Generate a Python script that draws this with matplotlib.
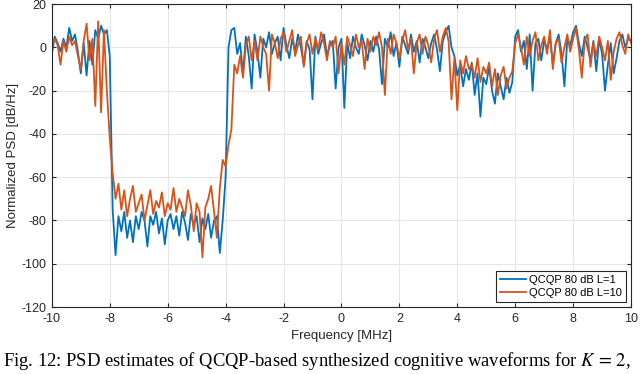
from matplotlib import pyplot as plt
import numpy as np

# frequency grid in MHz, 0.1 MHz steps
freq = np.linspace(-10, 10, 201)

psd_l1 = [
    -3, 5, 2, -2, 4, 0, 9, 3, 6, -2,
    -12, 2, -13, 3, -8, 8, 4, 10, 6, 8,
    -4, -75, -96, -78, -85, -76, -88, -80, -90, -78,
    -84, -76, -80, -92, -78, -82, -76, -86, -79, -91,
    -80, -77, -84, -78, -87, -76, -81, -89, -77, -82,
    -78, -90, -79, -84, -77, -88, -80, -78, -95, -80,
    -60, 0, 8, 9, -3, 2, -12, 5, -4, -19,
    6, -2, -14, 4, 0, 7, -3, 2, 5, -6,
    9, 1, -5, 4, -2, 6, 0, -8, 3, -1,
    -24, 5, -3, 2, 6, -4, 1, 3, -19, 0,
    4, -28, 2, -5, 5, 0, -3, 6, 1, -6,
    3, -2, 5, -1, -17, 4, 0, 7, -4, 2,
    -9, 5, 1, -3, 6, -2, 3, -7, 4, 0,
    -5, 2, 6, -1, -11, 3, 7, 10, 0, -4,
    -13, -8, -18, -10, -15, -7, -22, -12, -32, -14,
    -17, -9, -20, -26, -12, -18, -24, -14, -21, -16,
    5, 8, -2, 3, -10, 6, -20, 2, 4, -6,
    3, -1, 5, -8, 2, 6, -3, -18, 4, 1,
    7, 10, 2, -4, 5, 0, -6, 3, -11, 4,
    -3, -20, -8, 2, -12, -5, 3, 6, 0, 4,
    3,
]

psd_l10 = [
    0, 4, 1, -8, 3, -2, 5, 1, 3, -4,
    -10, 3, 11, -6, 4, -27, 12, -30, 8, -20,
    -42, -58, -70, -63, -75, -66, -78, -70, -64, -76,
    -72, -68, -80, -73, -66, -77, -71, -74, -67, -78,
    -72, -75, -65, -76, -70, -74, -78, -66, -73, -85,
    -72, -76, -97, -74, -70, -64, -76, -88, -65, -52,
    -55, -45, -38, -8, -12, -4, -14, 1, 5, -6,
    3, -6, 5, 0, -3, -20, 6, 2, -5, 4,
    7, -2, 3, 8, -4, 1, 5, -9, 2, 6,
    -3, 4, -1, 7, 2, -6, 3, 0, 5, -12,
    2, -8, 5, 1, -4, 6, 0, 3, -10, 4,
    -2, 5, 1, 7, 0, -22, 4, -3, 6, 2,
    -5, 3, 8, -1, 4, -12, 2, 6, -3, 5,
    1, -7, 4, 8, -2, 5, 9, 3, -24, -5,
    -29, -6, -12, -4, -10, -8, -14, -5, -16, -9,
    -12, -7, -18, -10, -22, -13, -9, -19, -14, -11,
    2, 6, 0, -8, 5, -4, 3, 7, -6, 1,
    5, -3, 8, -10, 2, 4, -7, 0, 6, -2,
    4, 9, -1, -14, 3, 6, -9, 2, -4, 5,
    0, -6, 3, -15, -2, 4, 7, 1, -3, 6,
    2,
]

labels = ['QCQP 80 dB L=1', 'QCQP 80 dB L=10']
colors = ['#0072BD', '#D95319']

plt.rcParams['font.family'] = ['Liberation Sans', 'DejaVu Sans']
plt.rcParams['mathtext.fontset'] = 'stix'
plt.rcParams['axes.unicode_minus'] = False

fig = plt.figure(figsize=(6.4, 3.74), dpi=100)
ax = fig.add_axes([0.081, 0.179, 0.905, 0.81])

ax.plot(freq, psd_l1, color=colors[0], lw=1.3, label=labels[0])
ax.plot(freq, psd_l10, color=colors[1], lw=1.3, label=labels[1])

ax.set_xlim(-10, 10)
ax.set_ylim(-120, 20)
ax.set_xticks(np.arange(-10, 11, 2))
ax.set_yticks(np.arange(-120, 21, 20))
ax.grid(True, color='#e6e6e6', lw=0.8)
ax.set_axisbelow(True)
ax.tick_params(direction='in', top=True, right=True, labelsize=9,
               colors='#262626', length=3, pad=4)
for s in ax.spines.values():
    s.set_color('#262626')
    s.set_linewidth(0.8)

ax.set_xlabel('Frequency [MHz]', fontsize=9.5, color='#262626', labelpad=4)
ax.set_ylabel('Normalized PSD [dB/Hz]', fontsize=9.5, color='#262626', labelpad=2)

leg = ax.legend(loc='lower right', fontsize=8, fancybox=False, framealpha=1,
                edgecolor='#262626', handlelength=2.3, handletextpad=0.3,
                borderpad=0.35, labelspacing=0.3, borderaxespad=0.45)
leg.get_frame().set_linewidth(0.8)

fig.text(0.004, 0.036, 'Fig. 12: PSD estimates of QCQP-based synthesized cognitive waveforms for $K\\,=\\,2$,',
         fontsize=13.4, family='Liberation Serif', ha='left', va='center')

fig.savefig('out.png', dpi=100)
